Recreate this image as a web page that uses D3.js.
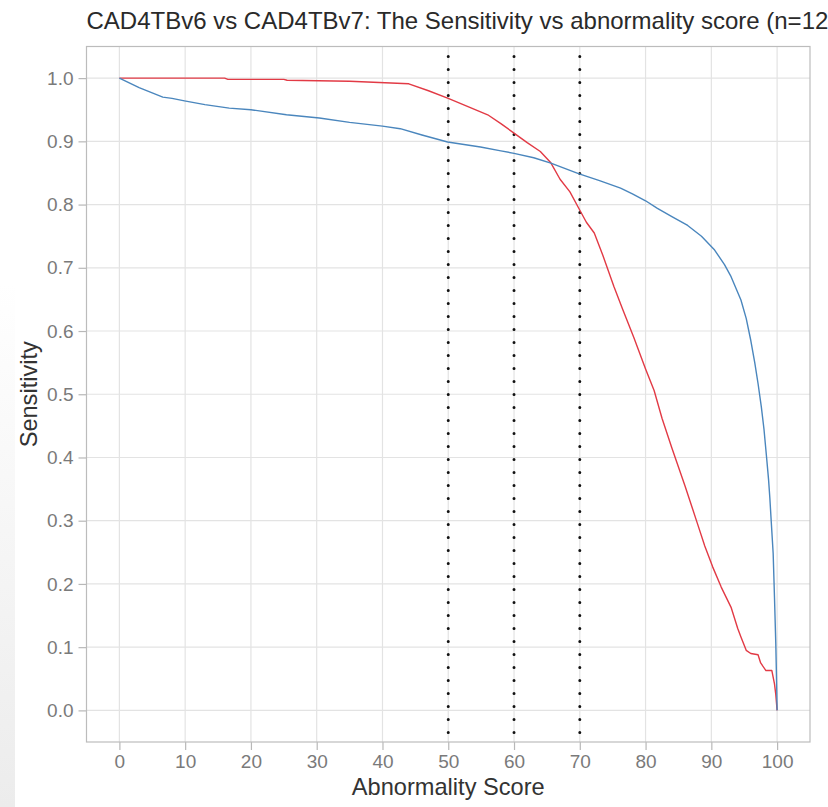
<!DOCTYPE html>
<html>
<head>
<meta charset="utf-8">
<script src="https://cdn.jsdelivr.net/npm/d3@7"></script>
<style>
  body { margin: 0; background: #fff; }
  svg { display: block; }
</style>
</head>
<body>
<div id="chart"></div>
<script>
// red curve
const redScore = [0, 16, 16.5, 25, 25.5, 35, 44, 47, 50, 53, 56, 58, 60, 62, 64, 65.6, 67, 68.5, 69.8, 71, 72.2, 73.5, 75.2, 76.5, 78.2, 80, 81.3, 82.5, 84, 86, 87.9, 89, 90.2, 91.5, 93, 94, 94.5, 95.3, 96, 97.1, 97.5, 98.3, 99.2, 99.6, 99.8, 100];
const redSens = [1.0, 1.0, 0.998, 0.998, 0.9966, 0.995, 0.991, 0.98, 0.968, 0.955, 0.942, 0.928, 0.913, 0.898, 0.884, 0.866, 0.84, 0.82, 0.795, 0.772, 0.755, 0.72, 0.67, 0.635, 0.59, 0.54, 0.506, 0.462, 0.415, 0.355, 0.295, 0.26, 0.227, 0.195, 0.163, 0.13, 0.116, 0.095, 0.09, 0.088, 0.075, 0.063, 0.063, 0.042, 0.025, 0.0];

// blue curve
const blueScore = [0, 3, 6.6, 8, 9.9, 13, 16.7, 20, 25.4, 30.4, 35, 40, 42.7, 46, 49.9, 54.9, 58, 60, 63, 65.6, 69.8, 73, 76.2, 78, 80, 81.8, 84, 86.4, 88.5, 90.5, 92, 93, 94.5, 95.3, 96, 96.6, 97.1, 97.6, 98.0, 98.4, 98.7, 98.9, 99.1, 99.4, 99.6, 99.8, 99.95, 100];
const blueSens = [1.0, 0.985, 0.970, 0.968, 0.964, 0.958, 0.9525, 0.95, 0.942, 0.937, 0.93, 0.924, 0.92, 0.91, 0.899, 0.891, 0.885, 0.881, 0.874, 0.8655, 0.849, 0.838, 0.826, 0.817, 0.806, 0.794, 0.781, 0.767, 0.75, 0.728, 0.705, 0.686, 0.649, 0.62, 0.585, 0.55, 0.517, 0.48, 0.445, 0.40, 0.365, 0.335, 0.30, 0.248, 0.179, 0.105, 0.03, 0.0];

const cutoffs = [50, 60, 70];
const xTicks = [0, 10, 20, 30, 40, 50, 60, 70, 80, 90, 100];
const yTicks = [0.0, 0.1, 0.2, 0.3, 0.4, 0.5, 0.6, 0.7, 0.8, 0.9, 1.0];

const titleText = "CAD4TBv6 vs CAD4TBv7: The Sensitivity vs abnormality score (n=12";

const width = 828;
const height = 807;
const margin = { top: 46.5, right: 18, bottom: 65, left: 86.5 };

const x = d3.scaleLinear()
  .domain([-5, 105])
  .range([margin.left, width - margin.right]);
const y = d3.scaleLinear()
  .domain([-0.05, 1.05])
  .range([height - margin.bottom, margin.top]);

const svg = d3.select("#chart")
  .append("svg")
  .attr("width", width)
  .attr("height", height)
  .style("font-family", "'Liberation Sans', Arial, sans-serif");

svg.append("rect").attr("width", width).attr("height", height).attr("fill", "#fff");

// faint grey strip on the left edge of the screenshot
const grad = svg.append("defs").append("linearGradient")
  .attr("id", "edge").attr("x1", 0).attr("x2", 0).attr("y1", 0).attr("y2", 1);
grad.append("stop").attr("offset", "0.35").attr("stop-color", "#fff");
grad.append("stop").attr("offset", "1").attr("stop-color", "#ececec");
svg.append("rect").attr("x", 0).attr("y", 0).attr("width", 15).attr("height", height)
  .attr("fill", "url(#edge)");

// grid
const grid = svg.append("g");
grid.selectAll(".gx").data(xTicks).join("line")
  .attr("x1", d => x(d)).attr("x2", d => x(d))
  .attr("y1", margin.top).attr("y2", height - margin.bottom)
  .attr("stroke", "#e3e3e3").attr("stroke-width", 1.2);
grid.selectAll(".gy").data(yTicks).join("line")
  .attr("x1", margin.left).attr("x2", width - margin.right)
  .attr("y1", d => y(d)).attr("y2", d => y(d))
  .attr("stroke", "#e3e3e3").attr("stroke-width", 1.2);

// axes
const xAxis = g => g
  .attr("transform", `translate(0,${height - margin.bottom})`)
  .call(d3.axisBottom(x).tickValues(xTicks).tickSize(8).tickPadding(5).tickFormat(d3.format("d")))
  .call(g => g.select(".domain").remove())
  .call(g => g.selectAll(".tick line").attr("stroke", "#b8b8b8").attr("stroke-width", 1.2))
  .call(g => g.selectAll(".tick text").attr("fill", "#7a7a7a").style("font-size", "19px"));

const yAxis = g => g
  .attr("transform", `translate(${margin.left},0)`)
  .call(d3.axisLeft(y).tickValues(yTicks).tickSize(8).tickPadding(5).tickFormat(d3.format(".1f")))
  .call(g => g.select(".domain").remove())
  .call(g => g.selectAll(".tick line").attr("stroke", "#b8b8b8").attr("stroke-width", 1.2))
  .call(g => g.selectAll(".tick text").attr("fill", "#7a7a7a").style("font-size", "19px"));

svg.append("g").call(xAxis);
svg.append("g").call(yAxis);

// cut-off lines
svg.append("g").selectAll("line").data(cutoffs).join("line")
  .attr("x1", d => x(d)).attr("x2", d => x(d))
  .attr("y1", margin.top + 10).attr("y2", height - margin.bottom)
  .attr("stroke", "#111")
  .attr("stroke-width", 3)
  .attr("stroke-linecap", "round")
  .attr("stroke-dasharray", "0 13");

// curves
const line = d3.line().x(d => x(d[0])).y(d => y(d[1]));
const series = [
  { pts: d3.zip(redScore, redSens), color: "#e23a45" },
  { pts: d3.zip(blueScore, blueSens), color: "#4a86bd" }
];
svg.append("g").selectAll("path").data(series).join("path")
  .attr("d", d => line(d.pts))
  .attr("fill", "none")
  .attr("stroke", d => d.color)
  .attr("stroke-width", 1.4)
  .attr("stroke-linejoin", "round");

// panel border
svg.append("rect")
  .attr("x", margin.left).attr("y", margin.top)
  .attr("width", width - margin.right - margin.left)
  .attr("height", height - margin.bottom - margin.top)
  .attr("fill", "none").attr("stroke", "#bcbcbc").attr("stroke-width", 1.2);

// titles
svg.append("text")
  .attr("x", margin.left)
  .attr("y", 29)
  .attr("fill", "#2a2a2a")
  .style("font-size", "24px")
  .text(titleText);

svg.append("text")
  .attr("x", (margin.left + width - margin.right) / 2)
  .attr("y", 795)
  .attr("text-anchor", "middle")
  .attr("fill", "#333")
  .style("font-size", "23.6px")
  .text("Abnormality Score");

svg.append("text")
  .attr("transform", `translate(37,${(margin.top + height - margin.bottom) / 2}) rotate(-90)`)
  .attr("text-anchor", "middle")
  .attr("fill", "#333")
  .style("font-size", "23.6px")
  .text("Sensitivity");
</script>
</body>
</html>
